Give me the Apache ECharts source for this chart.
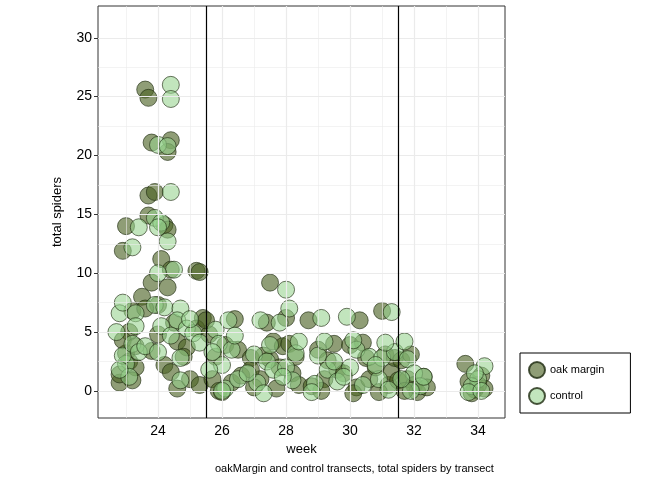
<!DOCTYPE html>
<html><head><meta charset="utf-8">
<script src="https://cdn.jsdelivr.net/npm/echarts@6/dist/echarts.min.js"></script>
<style>body{margin:0}#chart{width:672px;height:480px}</style>
</head><body><div id="chart"></div>
<script>
var oakMargin = [
  [22.8,0.7],[22.8,1.4],[23.0,14],[22.9,11.9],[23.0,3.2],[23.1,2.5],[23.3,2.0],[23.2,6.8],[23.5,8.0],[23.1,5.0],[22.9,4.3],[23.3,3.8],[23.2,0.9],
  [23.6,25.6],[23.7,24.9],[23.8,21.1],[24.4,21.3],[24.3,20.3],[23.7,16.6],[23.9,16.9],[23.7,14.9],[24.2,14.1],[24.3,13.7],[24.1,11.2],[24.4,10.3],[23.8,9.2],[24.3,8.8],[24.0,7.3],[23.6,7.0],[24.5,5.8],[24.0,4.8],[23.8,3.4],[24.2,2.2],[24.6,0.2],[24.4,1.6],[24.6,4.2],[24.9,3.7],[25.2,10.2],[25.3,10.1],[25.4,6.2],[25.2,5.3],[24.8,2.9],[25.0,1.0],[25.3,0.5],
  [25.6,4.8],[25.7,1.0],[25.9,0.0],[26.1,3.9],[26.4,6.1],[26.5,3.5],[26.3,0.7],[25.8,2.9],[26.0,-0.1],[26.6,1.3],[25.5,6.0],
  [26.9,2.8],[27.2,1.0],[27.0,0.3],[27.4,5.8],[27.5,2.7],[26.9,1.8],[27.3,3.0],[27.7,0.2],[27.6,4.2],
  [27.5,9.2],[28.0,6.2],[27.9,3.8],[28.2,1.5],[27.8,2.0],[28.4,0.5],[28.1,4.0],[28.3,2.9],
  [28.7,6.0],[29.0,3.5],[29.2,1.0],[28.8,0.4],[29.3,2.6],[29.5,4.0],[29.1,0.0],[29.6,1.8],
  [30.3,6.0],[30.0,3.9],[29.8,1.5],[30.2,0.3],[30.5,2.8],[30.1,-0.2],[30.4,4.1],[30.6,1.0],
  [31.0,6.8],[30.8,2.0],[31.2,0.5],[31.1,3.1],[30.9,-0.1],[31.3,1.6],[31.4,2.8],[31.5,0.9],
  [31.6,2.6],[31.8,1.0],[32.0,0.5],[32.3,1.2],[31.9,3.1],[32.1,-0.1],[31.7,0.0],[32.4,0.3],
  [33.6,2.3],[33.7,0.8],[33.9,0.1],[34.1,1.3],[34.2,0.2],[33.8,-0.2],[34.0,0.5]
];
var control = [
  [22.7,5.0],[22.8,6.6],[22.9,7.5],[23.0,2.3],[23.1,1.2],[23.2,12.2],[23.4,13.9],[23.3,6.6],[22.9,3.0],[23.2,4.0],[23.4,3.3],[22.8,1.8],[23.6,3.8],[23.3,5.5],
  [24.4,26.0],[24.4,24.8],[24.0,20.9],[24.3,20.8],[24.4,16.9],[23.9,14.7],[24.1,14.3],[24.0,13.9],[24.3,12.7],[24.5,10.3],[24.0,10.0],[23.9,7.3],[24.2,7.1],[24.7,7.0],[24.6,6.0],[24.1,5.5],[24.4,4.7],[24.0,3.3],[24.7,2.8],[24.9,5.3],[25.1,4.9],[24.7,0.9],[25.3,4.1],[25.0,6.1],
  [25.8,5.2],[25.9,4.0],[26.2,6.0],[26.0,2.2],[25.7,3.3],[26.3,3.5],[26.1,0.2],[25.6,1.8],[26.5,1.0],[26.4,4.7],[26.0,0.0],
  [27.2,6.0],[27.0,3.1],[27.4,2.5],[27.1,0.7],[26.8,1.5],[27.3,-0.2],[27.6,1.8],[27.5,3.9],
  [28.0,8.6],[28.1,7.0],[27.8,5.8],[28.3,3.2],[28.0,2.0],[28.2,0.9],[27.9,1.2],[28.4,4.2],
  [29.1,6.2],[29.0,3.0],[29.3,1.8],[28.9,0.6],[29.2,4.2],[29.5,2.5],[28.8,-0.1],[29.6,0.8],
  [29.9,6.3],[30.2,3.5],[30.0,2.0],[30.4,0.5],[30.1,4.3],[29.8,1.2],[30.6,2.9],
  [31.3,6.7],[31.0,2.8],[30.9,1.0],[31.2,0.1],[31.4,3.3],[31.1,4.1],[30.8,2.2],
  [31.7,4.2],[31.8,2.7],[32.0,1.5],[32.2,0.4],[31.9,0.0],[32.3,1.2],[31.6,1.0],
  [34.2,2.1],[34.0,1.0],[33.8,0.4],[33.7,-0.1],[34.1,0.0],[33.9,1.5]
];
var xTicks = [24, 26, 28, 30, 32, 34];
var xMinor = [23, 25, 27, 29, 31, 33];
var yTicks = [0, 5, 10, 15, 20, 25, 30];
var yMinor = [2.5, 7.5, 12.5, 17.5, 22.5, 27.5];
var cutWeeks = [25.5, 31.5];

var gridLines = [];
xMinor.forEach(function (v) { gridLines.push({ xAxis: v, lineStyle: { width: 0.6 } }); });
yMinor.forEach(function (v) { gridLines.push({ yAxis: v, lineStyle: { width: 0.6 } }); });
xTicks.forEach(function (v) { gridLines.push({ xAxis: v }); });
yTicks.forEach(function (v) { gridLines.push({ yAxis: v }); });

var myChart = echarts.init(document.getElementById('chart'));
var option = {
  animation: false,
  textStyle: { fontFamily: 'Liberation Sans' },
  title: {
    text: 'oakMargin and control transects, total spiders by transect',
    left: 210, top: 458,
    textStyle: { fontSize: 11, fontWeight: 'normal', color: '#000' }
  },
  grid: { left: 98, right: 167, top: 6, bottom: 62, show: true, borderColor: '#333', borderWidth: 1 },
  legend: {
    orient: 'vertical', left: 520, top: 353, width: 80,
    padding: [8, 26, 8, 8], itemGap: 8,
    borderColor: '#000', borderWidth: 1,
    itemWidth: 16, itemHeight: 16,
    textStyle: { fontSize: 11, color: '#000' },
    data: [
      { name: 'oak margin', icon: 'circle' },
      { name: 'control', icon: 'circle' }
    ]
  },
  xAxis: {
    type: 'value', min: 22.125, max: 34.84,
    name: 'week', nameLocation: 'middle', nameGap: 24,
    nameTextStyle: { fontSize: 13, color: '#000' },
    splitLine: { show: false },
    axisLine: { show: false },
    axisTick: { show: true, customValues: xTicks, length: 4, lineStyle: { color: '#333' } },
    axisLabel: { customValues: xTicks, fontSize: 14, color: '#000', margin: 6 }
  },
  yAxis: {
    type: 'value', min: -2.3, max: 32.7,
    name: 'total spiders', nameLocation: 'middle', nameGap: 34,
    nameTextStyle: { fontSize: 13, color: '#000' },
    splitLine: { show: false },
    axisLine: { show: false },
    axisTick: { show: true, customValues: yTicks, length: 4, lineStyle: { color: '#333' } },
    axisLabel: { customValues: yTicks, fontSize: 14, color: '#000', margin: 6 }
  },
  series: [
    {
      name: 'grid', type: 'scatter', data: [], silent: true,
      markLine: {
        silent: true, symbol: 'none', label: { show: false },
        lineStyle: { color: '#ebebeb', width: 1.2, type: 'solid' },
        data: gridLines
      }
    },
    {
      name: 'oak margin', type: 'scatter', data: oakMargin, symbolSize: 17,
      itemStyle: { color: 'rgba(75,98,35,0.78)', borderColor: '#1e2a10', borderWidth: 0.8 }
    },
    {
      name: 'control', type: 'scatter', data: control, symbolSize: 17,
      itemStyle: { color: 'rgba(150,210,140,0.72)', borderColor: '#1e2a10', borderWidth: 0.8 }
    },
    {
      name: 'cuts', type: 'scatter', data: [], silent: true, z: 5,
      markLine: {
        silent: true, symbol: 'none', label: { show: false },
        lineStyle: { color: '#000', width: 1.2, type: 'solid' },
        data: cutWeeks.map(function (v) { return { xAxis: v }; })
      }
    }
  ]
};
myChart.setOption(option);
</script></body></html>
